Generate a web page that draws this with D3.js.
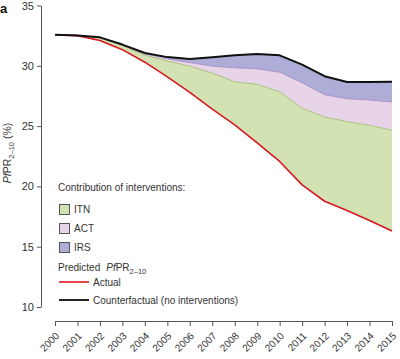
<!DOCTYPE html>
<html>
<head>
<meta charset="utf-8">
<script src="https://cdn.jsdelivr.net/npm/d3@7"></script>
<style>
  html, body { margin: 0; padding: 0; background: #fff; }
  svg { display: block; font-family: "Liberation Sans", Arial, Helvetica, sans-serif; }
</style>
</head>
<body>
<svg id="chart" width="400" height="359"></svg>
<script>
// ---- data ----
const years = [2000, 2001, 2002, 2003, 2004, 2005, 2006, 2007, 2008, 2009, 2010, 2011, 2012, 2013, 2014, 2015];
const counterfactual = [32.58, 32.52, 32.36, 31.76, 31.06, 30.72, 30.57, 30.70, 30.87, 30.98, 30.87, 30.10, 29.14, 28.65, 28.65, 28.67];
const withoutIRS = [32.58, 32.52, 32.34, 31.72, 31.00, 30.58, 30.27, 29.97, 29.83, 29.75, 29.47, 28.60, 27.60, 27.27, 27.16, 27.00];
const withoutACTandIRS = [32.58, 32.52, 32.32, 31.66, 30.88, 30.40, 29.97, 29.40, 28.67, 28.46, 27.85, 26.48, 25.76, 25.37, 25.07, 24.66];
const actual = [32.58, 32.50, 32.10, 31.34, 30.30, 29.08, 27.80, 26.40, 25.10, 23.60, 22.07, 20.13, 18.77, 18.00, 17.18, 16.30];
const yTicks = [10, 15, 20, 25, 30, 35];
const legendItems = ["ITN", "ACT", "IRS"];
const legendColors = ["#d3e2b3", "#e8d4e8", "#adadd7"];

// ---- drawing ----
const svg = d3.select("#chart");
const x = d3.scaleLinear().domain([2000, 2015]).range([55, 392]);
const y = d3.scaleLinear().domain([10, 35]).range([307, 5.5]);

const rows = years.map((yr, i) => ({
  yr, cf: counterfactual[i], noIrs: withoutIRS[i], noActIrs: withoutACTandIRS[i], act: actual[i]
}));

const areaGen = (lo, hi) => d3.area().x(d => x(d.yr)).y0(d => y(d[lo])).y1(d => y(d[hi]));
const lineGen = key => d3.line().x(d => x(d.yr)).y(d => y(d[key]));

// Areas
svg.append("path").datum(rows).attr("d", areaGen("act", "noActIrs")).attr("fill", legendColors[0]);
svg.append("path").datum(rows).attr("d", areaGen("noActIrs", "noIrs")).attr("fill", legendColors[1]);
svg.append("path").datum(rows).attr("d", areaGen("noIrs", "cf")).attr("fill", legendColors[2]);

// boundary strokes
svg.append("path").datum(rows).attr("d", lineGen("noActIrs")).attr("fill", "none")
  .attr("stroke", "#a9c27f").attr("stroke-width", 1);
svg.append("path").datum(rows).attr("d", lineGen("noIrs")).attr("fill", "none")
  .attr("stroke", "#ad92c4").attr("stroke-width", 1);

// lines
svg.append("path").datum(rows).attr("d", lineGen("act")).attr("fill", "none")
  .attr("stroke", "#d7181f").attr("stroke-width", 1.6).attr("stroke-linejoin", "round");
svg.append("path").datum(rows).attr("d", lineGen("cf")).attr("fill", "none")
  .attr("stroke", "#111").attr("stroke-width", 2).attr("stroke-linejoin", "round");

// Axes
const axisColor = "#555";
const textColor = "#333";

const yAxis = svg.append("g").attr("transform", "translate(41,0)")
  .call(d3.axisLeft(y).tickValues(yTicks).tickSize(4).tickSizeOuter(0).tickPadding(3).tickFormat(d3.format("d")));
yAxis.selectAll("path, line").attr("stroke", axisColor);
yAxis.selectAll("text").attr("fill", textColor).style("font-size", "11px")
  .style("font-family", "\"Liberation Sans\", Arial, sans-serif");

const xAxis = svg.append("g").attr("transform", "translate(0,321)")
  .call(d3.axisBottom(x).tickValues(years).tickSize(5).tickSizeOuter(0).tickFormat(d3.format("d")));
xAxis.selectAll("path, line").attr("stroke", axisColor);
xAxis.selectAll("text")
  .attr("fill", textColor)
  .style("font-size", "10px")
  .style("font-family", "\"Liberation Sans\", Arial, sans-serif")
  .attr("x", 0).attr("y", 0).attr("dy", "0.35em")
  .attr("text-anchor", "end")
  .attr("transform", "translate(2,13) rotate(-45)");

// Y label
const yl = svg.append("text")
  .attr("transform", "translate(11,153) rotate(-90)")
  .attr("text-anchor", "middle")
  .attr("fill", textColor)
  .style("font-size", "10.5px");
yl.append("tspan").style("font-style", "italic").text("Pf");
yl.append("tspan").text("PR");
yl.append("tspan").attr("dy", 3).style("font-size", "7.5px").text("2–10");
yl.append("tspan").attr("dy", -3).text(" (%)");

// Panel letter
svg.append("text").attr("x", 0).attr("y", 13).attr("fill", "#111")
  .style("font-size", "13px").style("font-weight", "bold").text("a");

// Legend
const lg = svg.append("g").attr("fill", textColor).style("font-size", "10px");
lg.append("text").attr("x", 58).attr("y", 191).text("Contribution of interventions:");
const swY = [204, 223, 242];
legendItems.forEach((name, i) => {
  lg.append("rect").attr("x", 59.5).attr("y", swY[i] + 0.5).attr("width", 10).attr("height", 10)
    .attr("fill", legendColors[i]).attr("stroke", "#555").attr("stroke-width", 1);
  lg.append("text").attr("x", 74).attr("y", swY[i] + 9).text(name);
});
const pt = lg.append("text").attr("x", 58).attr("y", 271);
pt.append("tspan").text("Predicted");
pt.append("tspan").attr("dx", 6).style("font-style", "italic").text("Pf");
pt.append("tspan").text("PR");
pt.append("tspan").attr("dy", 3).style("font-size", "7.5px").text("2–10");

lg.append("line").attr("x1", 59).attr("x2", 89).attr("y1", 282).attr("y2", 282)
  .attr("stroke", "#d7181f").attr("stroke-width", 1.6);
lg.append("text").attr("x", 93).attr("y", 286).text("Actual");
lg.append("line").attr("x1", 59).attr("x2", 89).attr("y1", 300).attr("y2", 300)
  .attr("stroke", "#222").attr("stroke-width", 2);
lg.append("text").attr("x", 93).attr("y", 304).text("Counterfactual (no interventions)");
</script>
</body>
</html>
